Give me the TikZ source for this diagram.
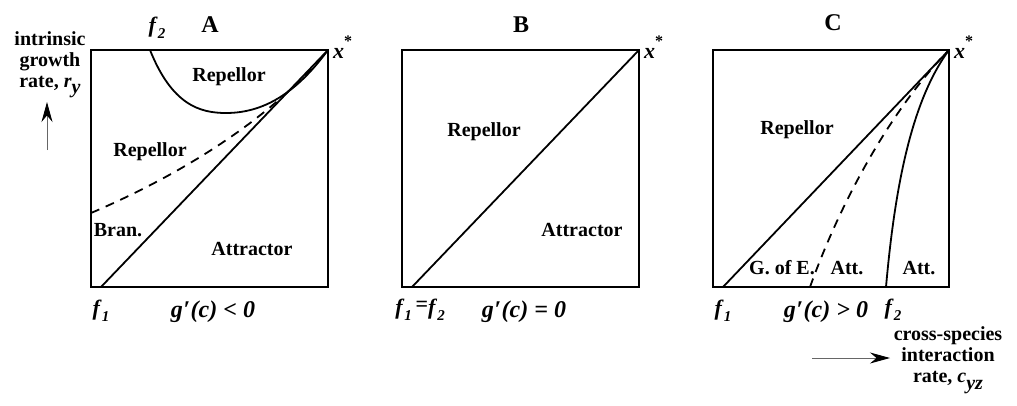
\documentclass[tikz,border=0pt]{standalone}
\usepackage{fontspec}
\setmainfont{Liberation Serif}
\usetikzlibrary{arrows.meta}
\newcommand\fsym[1]{\textbf{\textit{f}}\raisebox{-0.55ex}{\fontsize{15}{15}\selectfont\textbf{\textit{#1}}}}
\newcommand\xstar{\textbf{\textit{x}}\raisebox{1.2ex}{\fontsize{16}{16}\selectfont\textbf{*}}}
\newcommand\gpr{g\kern0.5pt′\kern0.5pt(c)}
\begin{document}
\begin{tikzpicture}[x=1pt,y=-1pt,
  frame/.style={line width=2.8pt},
  curve/.style={line width=1.8pt},
  dashcurve/.style={line width=1.8pt,dash pattern=on 9pt off 7pt},
  lbl/.style={font=\fontsize{20}{22}\selectfont\bfseries, inner sep=0pt},
  ttl/.style={font=\fontsize{24}{26}\selectfont\bfseries, inner sep=0pt},
  eq/.style={font=\fontsize{24}{26}\selectfont\bfseries\itshape, inner sep=0pt},
  fl/.style={font=\fontsize{22}{24}\selectfont, inner sep=0pt},
  xl/.style={font=\fontsize{22}{24}\selectfont, inner sep=0pt, anchor=west},
  axlbl/.style={font=\fontsize{20}{21}\selectfont\bfseries, align=center, inner sep=0pt},
  axarrow/.style={line width=0.9pt, draw=gray!80!black, -{Stealth[length=20pt,width=11pt,color=black]}}
]
\useasboundingbox (0,0) rectangle (1017,405);
% ---------- Panel A ----------
\draw[frame] (91,50) rectangle (328,287);
\coordinate (Af1) at (101,287);
\coordinate (Acor) at (328,50);
\coordinate (Adl) at (91,213);
\coordinate (Af2) at (150,50);
\coordinate (Amin) at (226,113);
\draw[curve] (Af1) -- (Acor);
\draw[dashcurve] (Adl) .. controls (180,175) and (270,120) .. (Acor);
\draw[curve] (Af2) .. controls (172,105) and (200,113) .. (Amin) .. controls (268,113) and (300,88) .. (Acor);
\node[ttl] (At) at (210,25) {A};
\node[fl] (Af2l) at (157,28) {\fsym{2}};
\node[xl] (Ax) at (333,47) {\xstar};
\node[lbl] (Arep1) at (229,77) {Repellor};
\node[lbl] (Arep2) at (150,152) {Repellor};
\node[lbl] (Abran) at (118,230) {Bran.};
\node[lbl] (Aatt) at (252,249) {Attractor};
\node[fl] (Af1l) at (101,311) {\fsym{1}};
\node[eq] (Aeq) at (213,312) {\gpr{} < 0};
% y-axis label
\node[axlbl] (ylab) at (50,65) {intrinsic\\growth\\rate, \textit{r}\raisebox{-0.7ex}{\textit{y}}};
\coordinate (yarrs) at (47,150);
\coordinate (yarre) at (47,102);
\draw[axarrow] (yarrs) -- (yarre);
% ---------- Panel B ----------
\draw[frame] (402,50) rectangle (639,287);
\coordinate (Bf) at (412,287);
\coordinate (Bcor) at (639,50);
\draw[curve] (Bf) -- (Bcor);
\node[ttl] (Bt) at (521,25) {B};
\node[xl] (Bx) at (644,47) {\xstar};
\node[lbl] (Brep) at (484,132) {Repellor};
\node[lbl] (Batt) at (582,230) {Attractor};
\node[fl] (Bfl) at (420,310) {\fsym{1}\,\raisebox{0.35ex}{\textbf{=}}\fsym{2}};
\node[eq] (Beq) at (524,312) {\gpr{} = 0};
% ---------- Panel C ----------
\draw[frame] (713,50) rectangle (949,287);
\coordinate (Cf1) at (723,287);
\coordinate (Cd) at (810,287);
\coordinate (Cf2) at (886,287);
\coordinate (Ccor) at (949,50);
\draw[curve] (Cf1) -- (Ccor);
\draw[dashcurve] (Cd) .. controls (843,195) and (895,105) .. (Ccor);
\draw[curve] (Cf2) .. controls (895,185) and (912,100) .. (Ccor);
\node[ttl] (Ct) at (833,23) {C};
\node[xl] (Cx) at (954,47) {\xstar};
\node[lbl] (Crep) at (797,130) {Repellor};
\node[lbl] (Cgoe) at (782,268) {G. of E.};
\node[lbl] (Catt1) at (847,268) {Att.};
\node[lbl] (Catt2) at (919,268) {Att.};
\node[fl] (Cf1l) at (723,311) {\fsym{1}};
\node[eq] (Ceq) at (826,312) {\gpr{} > 0};
\node[fl] (Cf2l) at (893,310) {\fsym{2}};
% x-axis label
\coordinate (xarrs) at (812,358);
\coordinate (xarre) at (890,358);
\draw[axarrow] (xarrs) -- (xarre);
\node[axlbl] (xlab) at (948,360) {cross-species\\interaction\\rate, \textit{c}\raisebox{-0.7ex}{\textit{yz}}};
\end{tikzpicture}
\end{document}
